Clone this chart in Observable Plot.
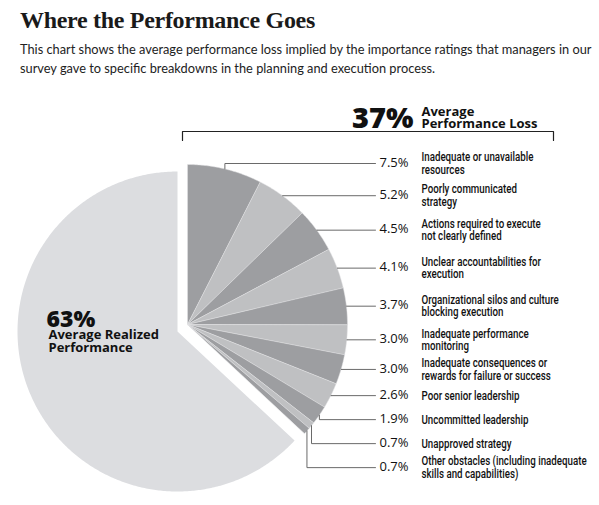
<!DOCTYPE html>
<html>
<head>
<meta charset="utf-8">
<script src="https://cdn.jsdelivr.net/npm/d3@7"></script>
<script src="https://cdn.jsdelivr.net/npm/@observablehq/plot@0.6"></script>
<style>
  body { margin: 0; background: #fff; }
  #wrap { position: relative; width: 599px; height: 505px; overflow: hidden; }
  #title {
    position: absolute; left: 20px; top: 8px; margin: 0;
    font: bold 24px/24px "Liberation Serif", serif; color: #1a1a1a; letter-spacing: -0.3px;
  }
  #sub {
    position: absolute; left: 20px; top: 40px; margin: 0; white-space: nowrap;
    font: 12.8px/18.5px Lato, sans-serif; color: #222;
  }
  #chart { position: absolute; left: 0; top: 88px; }
</style>
</head>
<body>
<div id="wrap">
  <div id="title">Where the Performance Goes</div>
  <div id="sub">This chart shows the average performance loss implied by the importance ratings that managers in our<br>survey gave to specific breakdowns in the planning and execution process.</div>
  <div id="chart"></div>
</div>
<script>
const categories = [
  "Inadequate or unavailable\nresources",
  "Poorly communicated\nstrategy",
  "Actions required to execute\nnot clearly defined",
  "Unclear accountabilities for\nexecution",
  "Organizational silos and culture\nblocking execution",
  "Inadequate performance\nmonitoring",
  "Inadequate consequences or\nrewards for failure or success",
  "Poor senior leadership",
  "Uncommitted leadership",
  "Unapproved strategy",
  "Other obstacles (including inadequate\nskills and capabilities)"
];
const losses = [7.5, 5.2, 4.5, 4.1, 3.7, 3.0, 3.0, 2.6, 1.9, 0.7, 0.7];
const realized = 63;
const totalLoss = 37;
const realizedLabel = "Average Realized\nPerformance";
const lossLabel = "Average\nPerformance Loss";

// layout (page pixels)
const W = 599, TOP = 88, H = 505 - TOP;
const R = 160;
const bigC = [177, 331];
const smallC = [187, 324];
const lineEnd = 375;
const gap = 24;
const squeeze = 0.78; // condensed look for the row labels
const dark = "#9d9ea1", light = "#bfc0c2", pale = "#dcdde0";

const total = d3.sum(losses) + realized;
const TAU = Math.PI * 2;
const pt = (c, a) => [c[0] + R * Math.sin(a), c[1] - R * Math.cos(a)];

function wedge(c, a0, a1, key, fill) {
  const pts = [{x: c[0], y: c[1], key, fill}];
  const n = Math.max(2, Math.ceil((a1 - a0) / 0.01));
  for (let k = 0; k <= n; k++) {
    const [x, y] = pt(c, a0 + (a1 - a0) * k / n);
    pts.push({x, y, key, fill});
  }
  return pts;
}

let acc = 0;
const slices = losses.map((v, i) => {
  const a0 = acc / total * TAU;
  acc += v;
  const a1 = acc / total * TAU;
  return {i, v, a0, a1, mid: (a0 + a1) / 2, fill: i % 2 ? light : dark};
});
const bigStart = acc / total * TAU;

const smallPts = slices.flatMap((s) => wedge(smallC, s.a0, s.a1, "s" + s.i, s.fill));
const bigPts = wedge(bigC, bigStart, TAU, "big", pale);

// label rows: start at the slice middle, pushed down to keep a gap
let prev = -Infinity;
slices.forEach((s, i) => {
  const [ax, ay] = pt(smallC, s.mid);
  s.ax = ax; s.ay = ay;
  s.ly = i === 0 ? Math.min(ay, smallC[1] - R - 1) : Math.max(ay, prev + gap);
  prev = s.ly;
});

const leaders = slices.flatMap((s) => [
  {x: s.ax, y: s.ay, key: s.i},
  {x: s.ax, y: s.ly, key: s.i},
  {x: lineEnd, y: s.ly, key: s.i}
]);

const bracket = [
  {x: 182, y: 140}, {x: 182, y: 131}, {x: 553, y: 131}, {x: 553, y: 140}
];

const sans = "'Open Sans', sans-serif";
const narrow = "Roboto, sans-serif";

const chart = Plot.plot({
  width: W,
  height: H,
  margin: 0,
  x: {type: "linear", domain: [0, W], range: [0, W], axis: null},
  y: {type: "linear", domain: [TOP, TOP + H], range: [0, H], axis: null},
  marks: [
    Plot.line(bigPts, {x: "x", y: "y", z: "key", fill: "fill", stroke: null, curve: "linear-closed"}),
    Plot.line(smallPts, {x: "x", y: "y", z: "key", fill: "fill", stroke: "#e4e4e6", strokeWidth: 0.5, curve: "linear-closed"}),
    Plot.line(leaders, {x: "x", y: "y", z: "key", stroke: "#6a6a6a", strokeWidth: 1}),
    Plot.line(bracket, {x: "x", y: "y", stroke: "#222", strokeWidth: 1.2}),
    Plot.text(slices, {
      x: lineEnd + 4, y: (d) => d.ly - 1, text: (d) => `${d.v.toFixed(1)}%`,
      textAnchor: "start", lineAnchor: "middle", fontSize: 13, fontFamily: sans, fill: "#111"
    }),
    Plot.text(slices, {
      x: 421, y: (d) => d.ly, text: (d) => categories[d.i],
      textAnchor: "start", lineAnchor: "middle", fontSize: 12.5, lineHeight: 1.0,
      fontWeight: 500, fontFamily: narrow, fill: "#111"
    }),
    Plot.text([realized], {
      x: 46, y: 326, text: (d) => `${d}%`, textAnchor: "start", lineAnchor: "bottom",
      fontSize: 23, fontWeight: 800, fontFamily: sans, fill: "#111"
    }),
    Plot.text([realizedLabel], {
      x: 48, y: 351, text: (d) => d, textAnchor: "start", lineAnchor: "bottom",
      fontSize: 13, lineHeight: 1.0, fontWeight: "bold", fontFamily: sans, fill: "#111"
    }),
    Plot.text([totalLoss], {
      x: 413, y: 127, text: (d) => `${d}%`, textAnchor: "end", lineAnchor: "bottom",
      fontSize: 29, fontWeight: 800, fontFamily: sans, fill: "#111"
    }),
    Plot.text([lossLabel], {
      x: 421, y: 127, text: (d) => d, textAnchor: "start", lineAnchor: "bottom",
      fontSize: 13, lineHeight: 0.9, fontWeight: "bold", fontFamily: sans, fill: "#111"
    })
  ]
});

// squeeze the row labels horizontally
d3.select(chart).selectAll("g")
  .filter(function () { return this.getAttribute("font-family") === narrow; })
  .selectAll("text")
  .attr("transform", function () {
    const t = this.getAttribute("transform");
    if (t) return `${t} scale(${squeeze},1)`;
    const x = +this.getAttribute("x") || 0;
    return `translate(${x},0) scale(${squeeze},1) translate(${-x},0)`;
  });

d3.select("#chart").append(() => chart);
</script>
</body>
</html>
